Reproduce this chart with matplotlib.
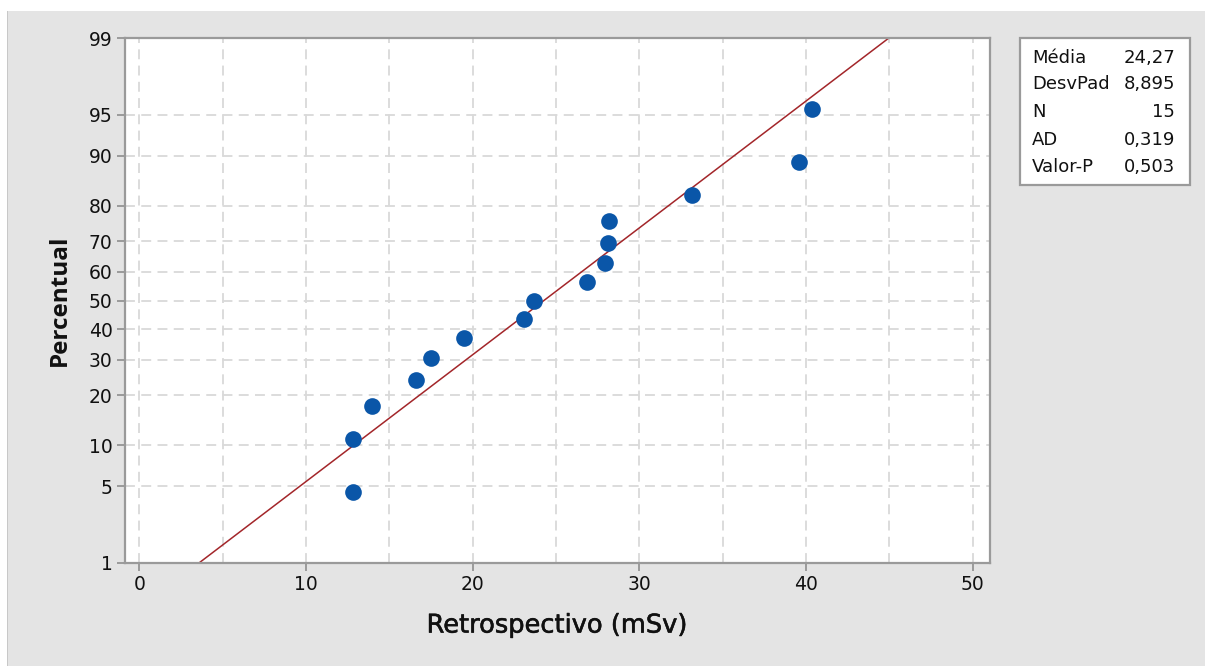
import numpy as np
import matplotlib
matplotlib.use("Agg")
import matplotlib.pyplot as plt
import matplotlib.patheffects as pe
from matplotlib.patches import Rectangle
from statistics import NormalDist

# ---- data ----
x_values = [12.8, 12.8, 13.95, 16.6, 17.5, 19.5, 23.05, 23.7, 26.85,
            27.95, 28.1, 28.2, 33.15, 39.55, 40.35]
percentiles = [4.5, 11.0, 17.5, 24.0, 30.5, 37.0, 43.5, 50.0, 56.5,
               63.0, 69.5, 76.0, 82.5, 89.0, 95.5]
fit_mean = 24.27
fit_sd = 8.895
fit_pct_range = [1, 99]
y_ticks = [1, 5, 10, 20, 30, 40, 50, 60, 70, 80, 90, 95, 99]
x_ticks = [0, 10, 20, 30, 40, 50]
x_grid = [0, 5, 10, 15, 20, 25, 30, 35, 40, 45, 50]
stats_labels = ["Média", "DesvPad", "N", "AD", "Valor-P"]
stats_values = ["24,27", "8,895", "15", "0,319", "0,503"]

plt.rcParams['font.family'] = ["DejaVu Sans"]
LABEL_FONT = ["Open Sans", "DejaVu Sans"]

nd = NormalDist()
_ppf = np.vectorize(lambda p: nd.inv_cdf(min(max(p / 100.0, 1e-9), 1 - 1e-9)),
                    otypes=[float])
_cdf = np.vectorize(lambda z: nd.cdf(z) * 100.0, otypes=[float])

def fwd(p):
    return _ppf(np.asarray(p, dtype=float))

def inv(z):
    return _cdf(np.asarray(z, dtype=float))

W, H = 1205, 666
fig = plt.figure(figsize=(W / 100, H / 100), dpi=100, facecolor="white")

# gray panel background
fig.patches.append(Rectangle((7 / W, 0), 1 - 7 / W, (H - 11) / H,
                             transform=fig.transFigure, facecolor="#E4E4E4",
                             edgecolor="none", zorder=-10))
fig.patches.append(Rectangle((7 / W, 0), 1.2 / W, (H - 11) / H,
                             transform=fig.transFigure, facecolor="#C8C8C8",
                             edgecolor="none", zorder=-9))

ax = fig.add_axes([125 / W, (H - 563) / H, 865 / W, 525 / H])
ax.set_facecolor("white")
ax.set_yscale("function", functions=(fwd, inv))
ax.set_ylim(1, 99)
ax.set_xlim(-0.86, 51.03)

# grid
for g in x_grid:
    ax.axvline(g, color="#D9D9D9", lw=1.3, dashes=(5.5, 3.5), zorder=0)
for t in y_ticks[1:-1]:
    ax.axhline(t, color="#D9D9D9", lw=1.3, dashes=(5.5, 3.5), zorder=0)

# fit line
p_line = np.linspace(fit_pct_range[0], fit_pct_range[1], 400)
x_line = [NormalDist(fit_mean, fit_sd).inv_cdf(p / 100.0) for p in p_line]
ax.plot(x_line, p_line, color="#A3262A", lw=1.1, zorder=2, clip_on=True)

# points
ax.plot(x_values, percentiles, 'o', color="#0A56A8", markersize=12,
        markeredgewidth=0, zorder=3)

ax.set_yticks(y_ticks)
ax.set_yticklabels([str(t) for t in y_ticks])
ax.yaxis.set_minor_locator(matplotlib.ticker.NullLocator())
ax.set_xticks(x_ticks)
ax.set_xticklabels([str(t) for t in x_ticks])

for s in ax.spines.values():
    s.set_color("#9A9A9A")
    s.set_linewidth(1.6)
ax.tick_params(axis="both", direction="out", length=6, width=1.4,
               color="#9A9A9A", labelsize=13.5, labelcolor="#111111", pad=3)

xl = ax.set_xlabel("Retrospectivo (mSv)", fontsize=18.5, fontweight="normal",
                   color="#111111", labelpad=13)
xl.set_path_effects([pe.withStroke(linewidth=0.4, foreground="#111111")])
ax.set_ylabel("Percentual", fontsize=17.5, fontweight="bold",
              family=LABEL_FONT, color="#111111", labelpad=12)

# stats box
bx0, by_top, bx1, by_bot = 1020, 38, 1190, 185
fig.patches.append(Rectangle((bx0 / W, (H - by_bot) / H), (bx1 - bx0) / W,
                             (by_bot - by_top) / H, transform=fig.transFigure,
                             facecolor="white", edgecolor="#9A9A9A",
                             linewidth=1.6, zorder=1))
row_y = [58, 84, 112, 140, 167]
for lab, val, yy in zip(stats_labels, stats_values, row_y):
    fig.text(1032 / W, (H - yy) / H, lab, fontsize=13, ha="left",
             va="center", color="#111111")
    fig.text(1175 / W, (H - yy) / H, val, fontsize=13, ha="right",
             va="center", color="#111111")

fig.savefig("out.png", dpi=100, facecolor=fig.get_facecolor())
